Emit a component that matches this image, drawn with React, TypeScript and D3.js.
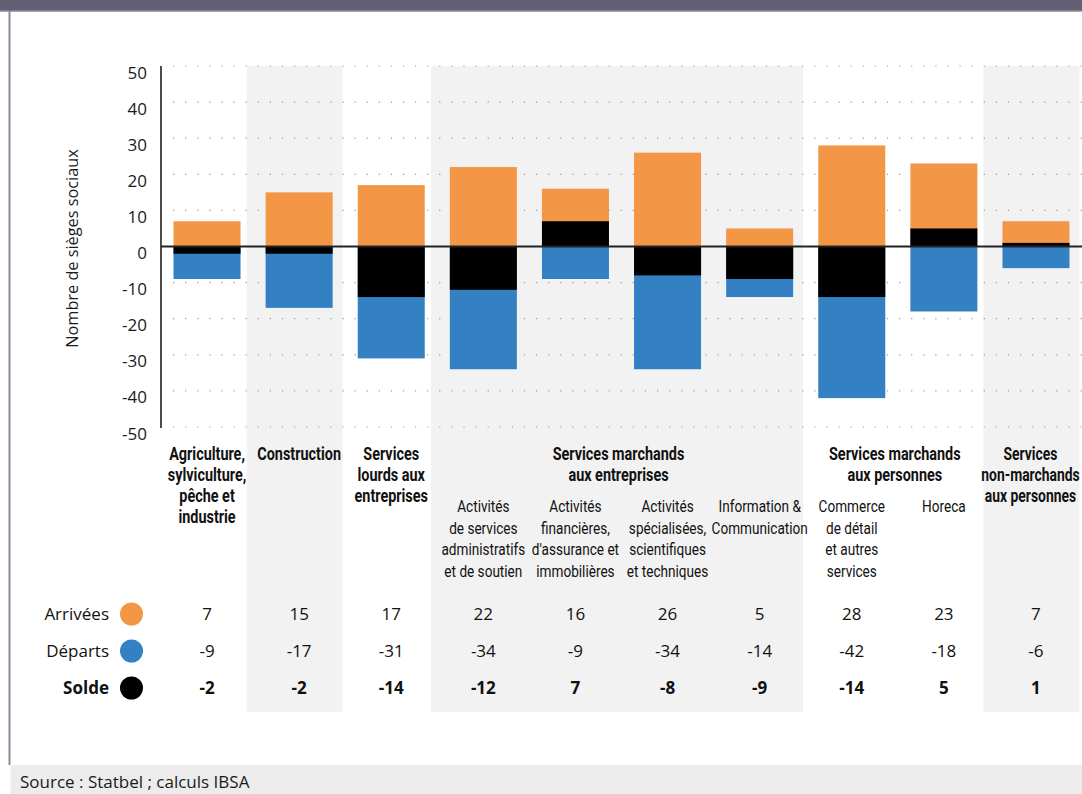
import React from "react";
import * as d3 from "d3";

const categories = ["agri", "constr", "lourds", "admin", "fin", "spec", "info", "commerce", "horeca", "nonmarch"];
const arrivals = [7, 15, 17, 22, 16, 26, 5, 28, 23, 7];
const departures = [-9, -17, -31, -34, -9, -34, -14, -42, -18, -6];
const solde = [-2, -2, -14, -12, 7, -8, -9, -14, 5, 1];

const groupFrom = [0, 1, 2, 3, 7, 9];
const groupTo = [0, 1, 2, 6, 8, 9];
const groupLines = [
  ["Agriculture,", "sylviculture,", "pêche et", "industrie"],
  ["Construction"],
  ["Services", "lourds aux", "entreprises"],
  ["Services marchands", "aux entreprises"],
  ["Services marchands", "aux personnes"],
  ["Services", "non-marchands", "aux personnes"],
];
const subLines: (string[] | null)[] = [
  null,
  null,
  null,
  ["Activités", "de services", "administratifs", "et de soutien"],
  ["Activités", "financières,", "d'assurance et", "immobilières"],
  ["Activités", "spécialisées,", "scientifiques", "et techniques"],
  ["Information &", "Communication"],
  ["Commerce", "de détail", "et autres", "services"],
  ["Horeca"],
  null,
];
const shadedGroups = [1, 3, 5];
const yTicks = [50, 40, 30, 20, 10, 0, -10, -20, -30, -40, -50];
const rowLabels = ["Arrivées", "Départs", "Solde"];
const yTitle = "Nombre de sièges sociaux";
const source = "Source : Statbel ; calculs IBSA";

const W = 1082;
const H = 794;
const ORANGE = "#f39645";
const BLUE = "#3380c3";
const BLACK = "#000000";
const SHADE = "#f2f2f2";
const COND = "Roboto, 'Liberation Sans', sans-serif";
const SANS = "'Open Sans', 'Noto Sans', sans-serif";

export default function App() {
  const x = d3.scaleBand<string>().domain(categories).range([161, 1082]).paddingInner(0.2725).paddingOuter(0.136);
  const y = d3.scaleLinear().domain([-50, 50]).range([427, 66]);
  const bw = x.bandwidth();
  const cx = (i: number) => (x(categories[i]) as number) + bw / 2;
  const rowY = [615, 652, 689];
  const rowVals = [arrivals, departures, solde];
  const rowColors = [ORANGE, BLUE, BLACK];

  const bar = (v: number) => ({ y: Math.min(y(0), y(v)), h: Math.abs(y(v) - y(0)) });

  return (
    <svg width={W} height={H} style={{ position: "absolute", left: 0, top: 0, background: "#fff" }}>
      {/* header & frame */}
      <rect x={0} y={0} width={W} height={11} fill="#646074" />
      <line x1={0} x2={W} y1={11} y2={11} stroke="#8d899b" strokeWidth={1.5} />
      <line x1={9.5} x2={9.5} y1={11} y2={765} stroke="#8d899b" strokeWidth={2} />
      <rect x={10.5} y={765} width={W} height={H - 765} fill="#ececec" />
      <text x={20} y={783} fontFamily={SANS} fontSize={17} fill="#1a1a1a" dominantBaseline="middle">{source}</text>

      {/* shaded groups */}
      {shadedGroups.map((g) => {
        const x0 = (x(categories[groupFrom[g]]) as number) - 19;
        const x1 = (x(categories[groupTo[g]]) as number) + bw + 10;
        return <rect key={g} x={x0} y={66} width={x1 - x0} height={712 - 66} fill={SHADE} />;
      })}

      {/* grid */}
      {yTicks.filter((t) => t !== 0).map((t) => (
        <line key={t} x1={173} x2={W} y1={y(t)} y2={y(t)} stroke="#9a9a9a" strokeWidth={1.2} strokeDasharray="1.2 10.9" />
      ))}

      {/* y tick labels */}
      {yTicks.map((t) => (
        <text key={t} x={147} y={y(t) + 8} textAnchor="end" dominantBaseline="middle" fontFamily={SANS} fontSize={17} fill="#1a1a1a">
          {t}
        </text>
      ))}
      <text
        transform={`translate(74,${(y(50) + y(-50)) / 2 + 2}) rotate(-90)`}
        textAnchor="middle"
        dominantBaseline="middle"
        fontFamily={SANS}
        fontSize={16.3}
        fill="#1a1a1a"
      >
        {yTitle}
      </text>

      {/* bars */}
      {categories.map((c, i) => {
        const a = bar(arrivals[i]);
        const d = bar(departures[i]);
        const s = bar(solde[i]);
        return (
          <g key={c}>
            <rect x={x(c)} y={a.y} width={bw} height={a.h} fill={ORANGE} />
            <rect x={x(c)} y={d.y} width={bw} height={d.h} fill={BLUE} />
            <rect x={x(c)} y={s.y} width={bw} height={s.h} fill={BLACK} />
          </g>
        );
      })}

      {/* axes */}
      <line x1={161} x2={161} y1={66} y2={428} stroke="#111" strokeWidth={1.5} />
      <line x1={161} x2={W} y1={y(0)} y2={y(0)} stroke="#222" strokeWidth={2} />

      {/* category labels */}
      {groupLines.map((lines, g) => {
        const last = g === groupLines.length - 1;
        const mid = (cx(groupFrom[g]) + cx(groupTo[g])) / 2 + (g >= 3 ? -3 : 0) + (last ? -2.5 : 0);
        return (
          <text key={g} transform={`translate(${mid},0) scale(${last ? 0.78 : 0.81},1)`} fontFamily={COND} fontWeight="bold" fontSize={17.8} fill="#111" textAnchor="middle">
            {lines.map((l, k) => (
              <tspan key={k} x={0} y={455 + k * 21} dominantBaseline="middle">{l}</tspan>
            ))}
          </text>
        );
      })}
      {subLines.map((lines, i) =>
        lines ? (
          <text key={i} transform={`translate(${cx(i)},0) scale(0.8,1)`} fontFamily={COND} fontSize={17} fill="#111" textAnchor="middle">
            {lines.map((l, k) => (
              <tspan key={k} x={0} y={508 + k * 21.5} dominantBaseline="middle">{l}</tspan>
            ))}
          </text>
        ) : null
      )}

      {/* table */}
      {rowLabels.map((r, k) => (
        <g key={r}>
          <text x={109} y={rowY[k]} textAnchor="end" dominantBaseline="middle" fontFamily={SANS} fontSize={17} fontWeight={k === 2 ? "bold" : "normal"} fill="#111">
            {r}
          </text>
          <circle cx={131.5} cy={rowY[k] - 1} r={11.5} fill={rowColors[k]} />
          {categories.map((c, i) => (
            <text key={c} x={cx(i)} y={rowY[k]} textAnchor="middle" dominantBaseline="middle" fontFamily={SANS} fontSize={17} fontWeight={k === 2 ? "bold" : "normal"} fill="#111">
              {rowVals[k][i]}
            </text>
          ))}
        </g>
      ))}
    </svg>
  );
}
